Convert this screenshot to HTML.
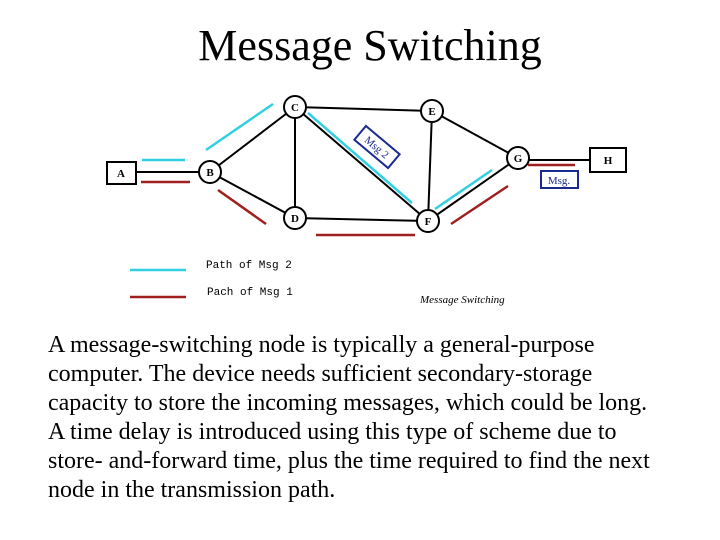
<!DOCTYPE html>
<html><head><meta charset="utf-8"><style>
html,body{margin:0;padding:0;background:#fff;}
body{width:720px;height:540px;position:relative;overflow:hidden;font-family:"Liberation Serif",serif;}
.title{position:absolute;left:0;width:740px;top:20px;text-align:center;font-size:44px;line-height:52px;}
.para{position:absolute;left:48px;top:331px;font-size:24px;line-height:29px;white-space:nowrap;}
svg{position:absolute;left:0;top:0;}
</style></head><body>
<div class="title">Message Switching</div>
<svg width="720" height="540" viewBox="0 0 720 540" font-family="Liberation Serif, serif">
<g stroke="#000" stroke-width="2" fill="none">
<line x1="136" y1="172" x2="200" y2="172"/>
<line x1="210" y1="172" x2="295" y2="107"/>
<line x1="210" y1="172" x2="295" y2="218"/>
<line x1="295" y1="107" x2="295" y2="218"/>
<line x1="295" y1="107" x2="432" y2="111"/>
<line x1="295" y1="107" x2="428" y2="221"/>
<line x1="295" y1="218" x2="428" y2="221"/>
<line x1="432" y1="111" x2="428" y2="221"/>
<line x1="432" y1="111" x2="518" y2="158"/>
<line x1="428" y1="221" x2="518" y2="158"/>
<line x1="518" y1="160" x2="590" y2="160"/>
</g>
<g stroke="#30d0e0" stroke-width="2.5">
<line x1="142" y1="160" x2="185" y2="160"/>
<line x1="206" y1="150" x2="273" y2="104"/>
<line x1="308" y1="113" x2="412" y2="203"/>
<line x1="435" y1="209" x2="492" y2="170"/>
<line x1="130" y1="270" x2="186" y2="270"/>
</g>
<g stroke="#a02020" stroke-width="2.5">
<line x1="141" y1="182" x2="190" y2="182"/>
<line x1="218" y1="190" x2="266" y2="224"/>
<line x1="316" y1="235" x2="415" y2="235"/>
<line x1="451" y1="224" x2="508" y2="186"/>
<line x1="528" y1="165" x2="575" y2="165"/>
<line x1="130" y1="297" x2="186" y2="297"/>
</g>
<g stroke="#000" stroke-width="2" fill="#fff">
<rect x="107" y="162" width="29" height="22"/>
<rect x="590" y="148" width="36" height="24"/>
<circle cx="210" cy="172" r="11"/>
<circle cx="295" cy="107" r="11"/>
<circle cx="432" cy="111" r="11"/>
<circle cx="295" cy="218" r="11"/>
<circle cx="428" cy="221" r="11"/>
<circle cx="518" cy="158" r="11"/>
</g>
<g font-size="11" font-weight="bold" text-anchor="middle">
<text x="121" y="177">A</text><text x="608" y="164">H</text>
<text x="210" y="176">B</text><text x="295" y="111">C</text>
<text x="432" y="115">E</text><text x="295" y="222">D</text>
<text x="428" y="225">F</text><text x="518" y="162">G</text>
</g>
<rect x="541" y="171" width="37" height="17" fill="none" stroke="#1a2a90" stroke-width="2"/>
<text x="559" y="184" font-size="11" fill="#1a2a90" text-anchor="middle">Msg.</text>
<g transform="translate(377,147) rotate(40)">
<rect x="-22" y="-9" width="44" height="18" fill="#fff" stroke="#1a2a90" stroke-width="2"/>
<text x="0" y="4" font-size="11" fill="#1a2a90" text-anchor="middle">Msg 2</text>
</g>
<text x="206" y="268" font-size="11" font-family="Liberation Mono, monospace">Path of Msg 2</text>
<text x="207" y="295" font-size="11" font-family="Liberation Mono, monospace">Pach of Msg 1</text>
<text x="420" y="303" font-size="11" font-style="italic">Message Switching</text>
</svg>
<div class="para">A message-switching node is typically a general-purpose<br>computer. The device needs sufficient secondary-storage<br>capacity to store the incoming messages, which could be long.<br>A time delay is introduced using this type of scheme due to<br>store- and-forward time, plus the time required to find the next<br>node in the transmission path.</div>
</body></html>
